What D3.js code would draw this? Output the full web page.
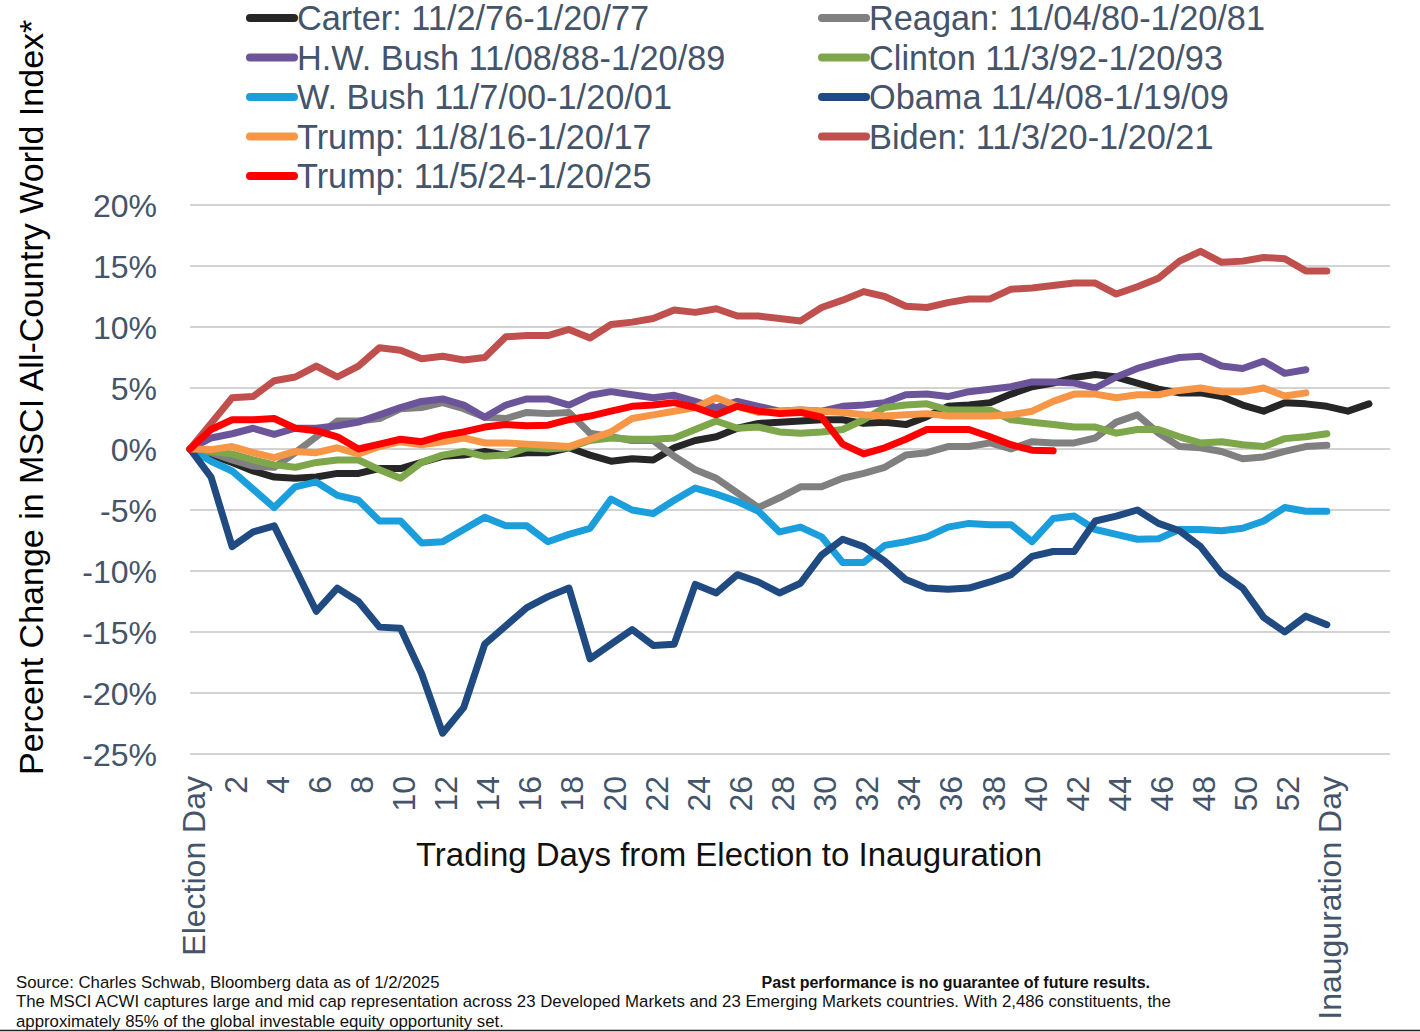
<!DOCTYPE html>
<html>
<head>
<meta charset="utf-8">
<script src="https://cdn.jsdelivr.net/npm/d3@7/dist/d3.min.js"></script>
<style>
  html, body { margin: 0; padding: 0; background: #fff; }
  svg { display: block; }
  text { font-family: "Liberation Sans", Arial, sans-serif; }
</style>
</head>
<body>
<svg id="chart" width="1420" height="1032"></svg>
<script>
// ---- data (percent change, by trading day from election) ----
const carter  = [0,-0.5,-1.1,-1.8,-2.3,-2.4,-2.3,-2.0,-2.0,-1.6, -1.6,-1.1,-0.6,-0.5,-0.2,-0.5,-0.3,-0.3,0.1,-0.5, -1.0,-0.8,-0.9,0.1,0.7,1.0,1.7,2.1,2.2,2.3, 2.4,2.4,2.1,2.2,2.0,2.65,3.5,3.6,3.8,4.5, 5.1,5.4,5.85,6.1,5.9,5.4,4.9,4.6,4.6,4.3, 3.6,3.1,3.8,3.7,3.5,3.1,3.7];
const reagan  = [0,-0.3,-0.9,-1.4,-1.5,-0.3,1.0,2.3,2.3,2.5, 3.3,3.4,3.8,3.3,2.6,2.5,3.0,2.9,3.0,1.3, 1.0,0.7,0.7,-0.6,-1.7,-2.4,-3.6,-4.8,-4.0,-3.1, -3.1,-2.4,-2.0,-1.5,-0.5,-0.3,0.2,0.2,0.5,0.0, 0.6,0.5,0.5,0.9,2.2,2.8,1.3,0.2,0.1,-0.2, -0.8,-0.65,-0.2,0.2,0.3];
const hwBush  = [0,0.9,1.25,1.7,1.2,1.7,1.7,1.9,2.2,2.8, 3.4,3.9,4.1,3.6,2.6,3.6,4.1,4.1,3.6,4.4, 4.7,4.45,4.2,4.4,3.9,3.4,3.9,3.5,3.1,3.2, 3.1,3.5,3.6,3.8,4.45,4.5,4.3,4.7,4.9,5.1, 5.5,5.5,5.4,5.0,5.9,6.6,7.1,7.5,7.6,6.8, 6.6,7.2,6.2,6.5];
const clinton = [0,-0.2,-0.4,-0.9,-1.3,-1.5,-1.1,-0.9,-0.9,-1.7, -2.4,-1.1,-0.5,-0.2,-0.6,-0.5,0.1,0.0,0.1,0.7, 0.9,0.8,0.8,0.9,1.6,2.3,1.7,1.8,1.4,1.3, 1.4,1.6,2.4,3.4,3.6,3.7,3.2,3.2,3.2,2.4, 2.2,2.0,1.8,1.8,1.3,1.6,1.6,1.0,0.5,0.6, 0.35,0.2,0.85,1.0,1.25];
const wBush   = [0,-1.0,-1.8,-3.3,-4.8,-3.1,-2.7,-3.8,-4.2,-5.9, -5.9,-7.7,-7.6,-6.6,-5.6,-6.3,-6.3,-7.6,-7.0,-6.5, -4.1,-5.0,-5.3,-4.2,-3.2,-3.7,-4.3,-5.1,-6.8,-6.4, -7.2,-9.3,-9.3,-7.9,-7.6,-7.2,-6.4,-6.1,-6.2,-6.2, -7.6,-5.7,-5.5,-6.6,-7.0,-7.4,-7.35,-6.6,-6.6,-6.7, -6.5,-5.9,-4.8,-5.1,-5.1];
const obama   = [0,-2.3,-8.0,-6.8,-6.3,-9.8,-13.3,-11.4,-12.5,-14.6, -14.7,-18.4,-23.3,-21.2,-16.0,-14.5,-13.0,-12.1,-11.4,-17.2, -16.0,-14.8,-16.1,-16.0,-11.1,-11.8,-10.3,-10.9,-11.8,-11.0, -8.7,-7.4,-8.0,-9.2,-10.7,-11.4,-11.5,-11.4,-10.9,-10.3, -8.8,-8.4,-8.4,-5.9,-5.5,-5.0,-6.1,-6.7,-8.0,-10.2, -11.4,-13.8,-15.0,-13.7,-14.4];
const trump16 = [0,-0.05,0.2,-0.3,-0.7,-0.2,-0.3,0.1,-0.4,0.2, 0.6,0.35,0.6,0.9,0.5,0.5,0.4,0.3,0.2,0.8, 1.4,2.5,2.8,3.1,3.4,4.2,3.5,3.0,3.1,3.2, 3.1,3.0,2.8,2.7,2.8,2.9,2.7,2.7,2.7,2.8, 3.1,3.9,4.5,4.5,4.2,4.45,4.45,4.8,5.0,4.7, 4.7,5.0,4.35,4.6];
const biden   = [0,2.1,4.2,4.3,5.6,5.9,6.8,5.9,6.8,8.3, 8.1,7.4,7.6,7.3,7.5,9.2,9.3,9.3,9.8,9.1, 10.2,10.4,10.7,11.4,11.2,11.5,10.9,10.9,10.7,10.5, 11.6,12.2,12.9,12.5,11.7,11.6,12.0,12.3,12.3,13.1, 13.2,13.4,13.6,13.6,12.7,13.3,14.0,15.4,16.2,15.3, 15.4,15.7,15.6,14.6,14.6];
const trump24 = [0,1.6,2.4,2.4,2.5,1.7,1.5,1.0,0.0,0.4, 0.8,0.6,1.1,1.4,1.8,2.0,1.9,1.95,2.4,2.7, 3.1,3.5,3.6,3.8,3.4,2.8,3.5,3.1,2.9,3.0, 2.6,0.4,-0.4,0.1,0.8,1.6,1.6,1.6,1.0,0.35, -0.1,-0.15];

const seriesNames  = ["Carter: 11/2/76-1/20/77","Reagan: 11/04/80-1/20/81","H.W. Bush 11/08/88-1/20/89","Clinton 11/3/92-1/20/93","W. Bush 11/7/00-1/20/01","Obama 11/4/08-1/19/09","Trump: 11/8/16-1/20/17","Biden: 11/3/20-1/20/21","Trump: 11/5/24-1/20/25"];
const seriesValues = [carter, reagan, hwBush, clinton, wBush, obama, trump16, biden, trump24];
const seriesColors = ["#262626","#808080","#6b5499","#7ea64a","#1a9fdc","#1f4a82","#f79646","#c0504d","#ff0000"];

const tickDays   = [0,2,4,6,8,10,12,14,16,18,20,22,24,26,28,30,32,34,36,38,40,42,44,46,48,50,52,54];
const tickLabels = ["Election Day","2","4","6","8","10","12","14","16","18","20","22","24","26","28","30","32","34","36","38","40","42","44","46","48","50","52","Inauguration Day"];
const yTicks = [20,15,10,5,0,-5,-10,-15,-20,-25];

const yTitle = "Percent Change in MSCI All-Country World Index*";
const xTitle = "Trading Days from Election to Inauguration";
const foot1 = "Source: Charles Schwab, Bloomberg data as of 1/2/2025";
const foot2 = "The MSCI ACWI captures large and mid cap representation across 23 Developed Markets and 23 Emerging Markets countries. With 2,486 constituents, the";
const foot3 = "approximately 85% of the global investable equity opportunity set.";
const footBold = "Past performance is no guarantee of future results.";

// ---- drawing ----
const svg = d3.select("#chart");
const slate = "#44546a";

const x = d3.scaleLinear().domain([0, 57]).range([190, 1390]);
const y = d3.scaleLinear().domain([-25, 20]).range([754, 205]);

// gridlines
svg.append("g").selectAll("line").data(yTicks).join("line")
  .attr("x1", x(0)).attr("x2", x(57))
  .attr("y1", d => y(d)).attr("y2", d => y(d))
  .attr("stroke", "#c4c4c4").attr("stroke-width", 1.4);

// y tick labels
svg.append("g").selectAll("text").data(yTicks).join("text")
  .attr("x", 157).attr("y", d => y(d)).attr("dy", "0.36em")
  .attr("text-anchor", "end").attr("fill", slate).attr("font-size", 32)
  .text(d => d + "%");

// x tick labels (rotated)
svg.append("g").selectAll("text").data(tickDays).join("text")
  .attr("transform", d => `translate(${x(d) + 3},776) rotate(-90)`)
  .attr("dy", "0.36em").attr("text-anchor", "end")
  .attr("fill", slate).attr("font-size", 32)
  .text((d, i) => tickLabels[i]);

// lines
const line = d3.line().x((d, i) => x(i)).y(d => y(d));
svg.append("g").selectAll("path").data(seriesValues).join("path")
  .attr("d", d => line(d))
  .attr("fill", "none")
  .attr("stroke", (d, i) => seriesColors[i])
  .attr("stroke-width", 7)
  .attr("stroke-linejoin", "round")
  .attr("stroke-linecap", "round");

// legend (two columns)
const legend = svg.append("g");
seriesNames.forEach((name, i) => {
  const col = i % 2, row = Math.floor(i / 2);
  const lx = col === 0 ? 250 : 822;
  const ly = 18 + row * 39.5;
  legend.append("line")
    .attr("x1", lx).attr("x2", lx + 44).attr("y1", ly).attr("y2", ly)
    .attr("stroke", seriesColors[i]).attr("stroke-width", 8).attr("stroke-linecap", "round");
  legend.append("text")
    .attr("x", lx + 47).attr("y", ly).attr("dy", "0.36em")
    .attr("fill", slate).attr("font-size", 34.3)
    .text(name);
});

// axis titles
svg.append("text")
  .attr("transform", "translate(43,775) rotate(-90)")
  .attr("font-size", 34).attr("fill", "#000")
  .text(yTitle);

svg.append("text")
  .attr("x", 729).attr("y", 866).attr("text-anchor", "middle")
  .attr("font-size", 33).attr("fill", "#111")
  .text(xTitle);

// footnotes
svg.append("text").attr("x", 16).attr("y", 988).attr("font-size", 16.8).attr("fill", "#111").text(foot1);
svg.append("text").attr("x", 16).attr("y", 1007).attr("font-size", 16.8).attr("fill", "#111").text(foot2);
svg.append("text").attr("x", 16).attr("y", 1027).attr("font-size", 16.8).attr("fill", "#111").text(foot3);
svg.append("text").attr("x", 1150).attr("y", 988).attr("text-anchor", "end")
  .attr("font-size", 16).attr("font-weight", "bold").attr("fill", "#111").text(footBold);

// bottom rule
svg.append("line").attr("x1", 0).attr("x2", 1420).attr("y1", 1030.5).attr("y2", 1030.5)
  .attr("stroke", "#222").attr("stroke-width", 1.5);
</script>
</body>
</html>
